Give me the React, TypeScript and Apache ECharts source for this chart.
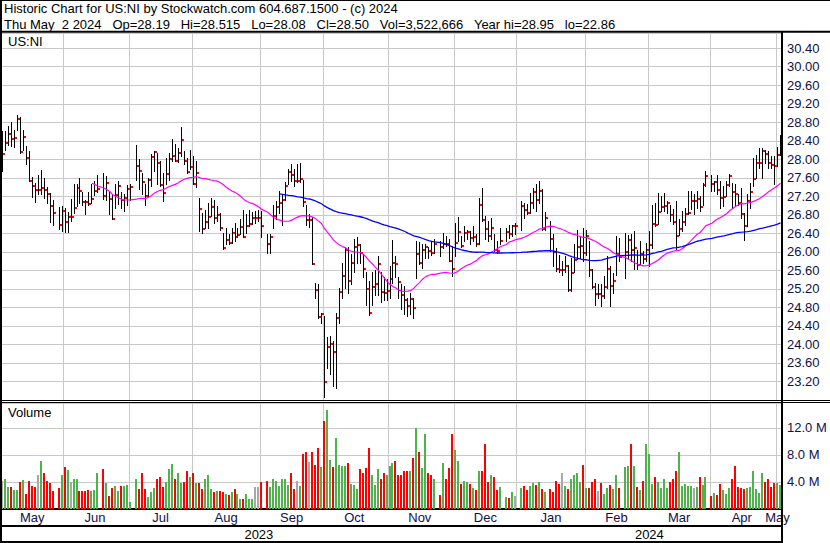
import React, { useEffect, useRef } from 'react';
import * as echarts from 'echarts';

// ---------- data ----------
const START_DATE = [2023, 4, 3]; // 2023-05-03, first weekday slot
const N_SLOTS = 262; // weekdays up to 2024-05-02
const MONTH_NAMES = ['Jan', 'Feb', 'Mar', 'Apr', 'May', 'Jun', 'Jul', 'Aug', 'Sep', 'Oct', 'Nov', 'Dec'];

// null = market holiday (empty slot)
const HIGH = [
  28.6, 28.61, 28.71, 28.79, 28.63, 28.95, 28.9, 28.63, 28.27, 28.17,
  27.6, 27.47, 27.66, 27.76, 27.59, 27.4, 27.27, 27.1, null, 26.96,
  26.98, 26.94, 26.85, 27.14, 27.45, 27.46, 27.58, 27.29, 27.12, 27.29,
  27.45, 27.53, 27.64, null, 27.7, 27.62, 27.29, 27.23, 27.45, 27.53,
  27.29, 27.24, 27.43, 27.45, null, 28.3, 28.0, 27.7, 27.46, 27.58,
  28.1, 28.17, 28.13, 27.95, 27.7, 28.02, 28.13, 28.42, 28.31, 28.24,
  28.69, 28.17, 28.02, 28.2, 28.06, 27.95, 27.16, 26.83, 26.9, 27.05,
  27.16, 27.12, 26.98, 26.83, 26.39, 26.51, 26.37, 26.51, 26.62, 26.5,
  26.69, 26.9, 26.8, 26.9, 26.85, 26.87, 26.9, 26.87, null, 26.37,
  26.37, 27.01, 27.09, 27.3, 27.23, 27.5, 27.78, 27.89, 27.77, 27.88,
  27.9, 27.55, 27.01, 26.8, 26.75, 25.32, 25.3, 24.67, 24.6, 24.15,
  24.17, 24.06, 24.67, 25.2, 25.75, 26.1, 26.1, 25.95, 26.26, 26.3,
  26.15, 25.95, 25.55, 25.35, 25.55, 25.6, 25.9, 25.55, 25.45, 25.4,
  25.68, 26.25, 25.9, 25.45, 25.3, 25.25, 24.99, 25.1, 24.99, 26.22,
  26.2, 26.15, 26.15, 26.1, 26.22, 26.26, null, 26.22, 26.4, 26.33,
  26.26, 26.12, 26.62, 26.74, 26.33, 26.55, 26.47, 26.44, 26.55, 26.37,
  27.16, 27.36, 26.76, 26.65, 26.73, 26.37, 26.22, 26.5, null, 26.51,
  26.58, 26.58, 26.62, null, 27.09, 27.05, 27.02, 27.27, 27.37, 27.45,
  27.52, 27.34, 26.85, null, 26.65, 26.37, 26.08, 25.93, 25.79, 25.9,
  25.7, 25.86, 26.15, 26.47, 26.33, 26.51, 26.47, 26.22, 25.61, 25.32,
  25.29, 25.29, 25.47, 25.9, 25.68, 25.54, 26.33, 26.29, null, 26.4,
  26.35, 26.37, 26.44, 26.04, 26.22, 26.0, 26.18, 26.44, 27.01, 27.05,
  27.27, 27.19, 27.27, 27.09, 27.01, 26.91, 27.09, 26.69, 26.87, 26.94,
  27.3, 27.3, 27.23, 27.3, 27.19, 27.48, 27.73, null, 27.66, 27.52,
  27.66, 27.52, 27.41, 27.52, 27.68, 27.48, 27.45, 27.23, 27.37, 26.83,
  27.25, 27.48, 28.02, 28.09, 28.24, 28.24, 28.2, 28.17, 28.06, 28.06,
  28.25, 28.515,
];

const LOW = [
  27.73, 28.2, 28.3, 28.27, 28.25, 28.62, 28.13, 28.2, 27.88, 27.53,
  27.18, 27.06, 27.23, 27.25, 27.15, 27.05, 26.63, 26.58, null, 26.49,
  26.44, 26.42, 26.42, 26.65, 26.83, 26.98, 27.05, 27.0, 26.8, 27.0,
  27.05, 27.22, 27.29, null, 27.14, 27.1, 26.8, 26.69, 26.94, 27.03,
  26.94, 26.87, 27.0, 27.12, null, 27.55, 27.34, 27.23, 27.0, 27.19,
  27.41, 27.73, 27.45, 27.42, 27.09, 27.45, 27.55, 27.95, 27.95, 27.93,
  28.06, 27.88, 27.7, 27.77, 27.45, 27.4, 26.43, 26.4, 26.5, 26.51,
  26.76, 26.62, 26.65, 26.47, 26.05, 26.15, 26.15, 26.19, 26.22, 26.3,
  26.37, 26.3, 26.4, 26.55, 26.6, 26.62, 26.65, 26.3, null, 25.97,
  25.97, 26.51, 26.69, 26.83, 26.58, 27.12, 27.45, 27.52, 27.41, 27.5,
  27.5, 26.99, 26.58, 26.52, 25.72, 25.0, 24.55, 24.45, 22.86, 23.47,
  23.35, 23.1, 23.05, 24.45, 25.0, 25.2, 25.1, 25.3, 25.55, 25.75,
  25.75, 25.45, 24.85, 24.62, 24.85, 25.05, 25.05, 24.9, 24.95, 24.95,
  25.0, 25.32, 25.45, 25.0, 24.75, 24.65, 24.6, 24.65, 24.57, 25.43,
  25.72, 25.65, 25.86, 25.86, 25.93, 25.97, null, 25.9, 26.08, 26.12,
  25.79, 25.47, 25.9, 26.22, 26.1, 26.22, 26.26, 26.15, 26.22, 26.12,
  26.15, 26.65, 26.26, 26.22, 26.26, 26.01, 25.97, 26.15, null, 26.22,
  26.29, 26.33, 26.37, null, 26.47, 26.73, 26.8, 26.83, 26.94, 26.87,
  27.05, 26.47, 26.47, null, 26.0, 25.68, 25.57, 25.55, 25.5, 25.55,
  25.15, 25.15, 25.55, 25.83, 25.86, 25.79, 25.93, 25.47, 25.2, 24.85,
  25.0, 24.82, 25.0, 25.2, 24.82, 25.11, 25.5, 25.79, null, 25.43,
  25.86, 25.79, 25.63, 25.61, 25.72, 25.75, 25.8, 25.68, 26.08, 26.55,
  26.6, 26.87, 26.87, 26.83, 26.65, 26.6, 26.04, 26.35, 26.44, 26.58,
  26.8, 26.91, 26.8, 26.94, 26.87, 27.0, 27.41, null, 27.3, 27.3,
  27.23, 26.94, 26.98, 27.2, 27.41, 26.94, 27.0, 27.0, 26.73, 26.24,
  26.55, 26.94, 27.41, 27.59, 27.8, 27.59, 27.9, 27.8, 27.8, 27.45,
  27.85, 28.08,
];

const CLOSE = [
  28.12, 28.36, 28.54, 28.44, 28.45, 28.88, 28.15, 28.49, 28.03, 27.54,
  27.42, 27.34, 27.34, 27.38, 27.34, 27.24, 26.99, 26.84, null, 26.58,
  26.89, 26.65, 26.76, 26.76, 26.95, 27.38, 27.32, 27.08, 27.07, 27.04,
  27.15, 27.32, 27.36, null, 27.21, 27.49, 27.15, 26.72, 27.23, 27.42,
  27.12, 27.17, 27.35, 27.4, null, 27.86, 27.74, 27.51, 27.2, 27.55,
  28.06, 28.16, 27.93, 27.45, 27.28, 27.69, 28.0, 28.07, 27.97, 28.13,
  28.42, 27.97, 27.73, 27.84, 27.47, 27.71, 26.93, 26.5, 26.65, 26.76,
  26.98, 26.73, 26.8, 26.51, 26.09, 26.25, 26.2, 26.4, 26.33, 26.36,
  26.53, 26.33, 26.57, 26.6, 26.74, 26.74, 26.74, 26.55, null, 26.18,
  26.32, 26.78, 26.96, 27.06, 27.13, 27.42, 27.73, 27.66, 27.54, 27.54,
  27.58, 27.07, 26.69, 26.69, 25.73, 25.18, 24.6, 24.66, 23.18, 23.95,
  24.0, 23.83, 24.58, 25.14, 25.47, 26.05, 25.38, 25.77, 26.11, 26.14,
  25.97, 25.62, 25.2, 24.67, 25.25, 25.3, 25.73, 25.14, 25.12, 25.16,
  25.42, 25.77, 25.74, 25.34, 25.06, 24.96, 24.84, 24.98, 24.78, 25.96,
  25.75, 26.05, 26.1, 26.02, 25.98, 26.17, null, 26.11, 26.17, 26.16,
  25.8, 25.62, 26.19, 26.44, 26.13, 26.4, 26.42, 26.3, 26.33, 26.17,
  27.01, 26.68, 26.49, 26.34, 26.52, 26.04, 26.01, 26.24, null, 26.42,
  26.38, 26.55, 26.55, null, 26.99, 26.9, 26.85, 27.05, 27.29, 27.13,
  27.32, 26.5, 26.74, null, 26.27, 26.0, 25.63, 25.6, 25.6, 25.69,
  25.18, 25.55, 25.82, 26.1, 26.12, 25.97, 26.35, 25.6, 25.25, 25.08,
  25.08, 25.05, 25.25, 25.64, 25.27, 25.38, 25.95, 25.9, null, 26.0,
  26.25, 26.05, 26.08, 25.71, 25.96, 25.85, 26.05, 26.14, 26.61, 26.59,
  26.87, 26.96, 27.0, 27.06, 26.8, 26.65, 26.35, 26.5, 26.65, 26.82,
  26.84, 27.09, 27.09, 27.14, 26.96, 27.45, 27.65, null, 27.47, 27.5,
  27.33, 27.17, 27.19, 27.45, 27.63, 27.3, 27.24, 27.06, 26.82, 26.55,
  27.1, 27.3, 27.58, 27.91, 27.93, 28.17, 28.11, 27.92, 27.88, 27.86,
  28.1, 28.5,
];

// volume in millions of shares
const VOLUME_M = [
  4.2, 4.5, 3.3, 3.3, 2.8, 2.8, 4.05, 4.36, 2.2, 4.2,
  3.44, 3.3, 5.0, 7.1, 5.4, 4.2, 3.9, 2.67, null, 3.1,
  5.0, 6.2, 5.74, 4.05, 4.5, 4.5, 2.67, 2.67, 2.67, 2.8,
  2.67, 2.8, 5.3, null, 5.9, 3.9, 1.9, 3.1, 3.4, 2.67,
  3.4, 3.4, 3.6, 1.1, null, 4.5, 3.0, 5.3, 3.0, 1.74,
  2.5, 3.1, 4.5, 4.8, 3.3, 4.05, 5.9, 6.67, 4.5, 5.3,
  3.9, 4.05, 5.6, 4.8, 5.4, 3.9, 3.9, 2.9, 4.5, 5.0,
  3.0, 2.5, 2.6, 2.7, 2.5, 2.2, 2.0, 2.5, 2.9, 2.2,
  1.5, 1.5, 2.2, 1.5, 1.5, 3.3, 3.3, 4.05, null, 4.2,
  3.3, 4.5, 4.2, 3.4, 4.5, 4.4, 3.6, 5.4, 3.0, 4.2,
  3.4, 8.2, 8.4, 7.0, 8.4, 6.5, 9.0, 6.2, 13.1, 14.7,
  7.3, 6.2, 10.5, 6.5, 6.4, 6.4, 6.8, 3.7, 3.6, 2.95,
  5.9, 5.3, 6.1, 9.0, 5.1, 3.6, 5.9, 4.5, 5.3, 5.1,
  6.4, 6.8, 7.1, 5.0, 5.0, 5.6, 5.6, 5.6, 7.6, 12.05,
  8.4, 6.05, 11.1, 5.3, 5.0, 4.4, null, 2.05, 6.8, 4.4,
  6.05, 11.1, 8.8, 7.1, 3.7, 4.2, 4.05, 3.7, 3.1, 2.8,
  5.6, 5.6, 9.7, 4.05, 5.0, 4.8, 2.8, 3.3, null, 1.74,
  1.6, 2.5, 1.9, null, 3.1, 3.4, 2.8, 3.4, 3.9, 3.6,
  4.05, 3.0, 2.5, null, 3.0, 2.5, 4.2, 3.7, 5.3, 3.4,
  3.0, 4.4, 5.0, 5.4, 4.05, 6.5, 3.1, 3.1, 4.05, 4.5,
  2.67, 3.9, 2.2, 3.1, 3.6, 3.0, 5.1, 3.1, null, 6.2,
  6.4, 9.6, 6.4, 3.3, 2.8, 4.2, 9.6, 8.2, 3.7, 4.8,
  4.05, 3.1, 4.5, 3.1, 4.05, 4.4, 5.7, 8.5, 3.4, 3.7,
  3.4, 3.4, 3.1, 3.3, 4.7, 3.6, 4.7, null, 1.9, 2.4,
  2.05, 3.7, 2.8, 2.2, 3.1, 4.5, 6.4, 3.3, 3.1, 3.0,
  3.1, 3.3, 5.6, 3.0, 2.4, 5.4, 4.05, 4.4, 3.3, 3.9,
  3.9, 3.52,
];

const MA_FAST = 30;
const MA_SLOW = 90;

const PRICE_MIN = 22.8;
const PRICE_MAX = 30.729;
const PRICE_STEP = 0.4;
const VOL_MAX = 15.7;
const VOL_STEP = 4;

// wide gaps kept visible with no-break spaces
const GAP = ' \u00a0 ';
const HEADER_1 = 'Historic Chart for US:NI by Stockwatch.com 604.687.1500 - (c) 2024';
const HEADER_2_PARTS = ['Thu May\u00a0 2 2024', 'Op=28.19', 'Hi=28.515', 'Lo=28.08', 'Cl=28.50', 'Vol=3,522,666', 'Year hi=28.95', 'lo=22.86'];
const SYMBOL = 'US:NI';
const VOLUME_TITLE = 'Volume';

// ---------- styles ----------
const FONT = '"Liberation Sans", Arial, sans-serif';
const GRID_COLOR = '#c8c8c8';
const LABEL_COLOR = '#10104a';
const UP_COLOR = '#4fb34b';
const DOWN_COLOR = '#ff0000';
const FLAT_COLOR = '#a8a8a8';

function buildDates(): string[] {
  const out: string[] = [];
  const d = new Date(Date.UTC(START_DATE[0], START_DATE[1], START_DATE[2]));
  while (out.length < N_SLOTS) {
    const wd = d.getUTCDay();
    if (wd !== 0 && wd !== 6) out.push(d.toISOString().slice(0, 10));
    d.setUTCDate(d.getUTCDate() + 1);
  }
  return out;
}

function sma(n: number): (number | null)[] {
  const vals: number[] = [];
  return CLOSE.map((c) => {
    if (c == null) return null;
    vals.push(c);
    if (vals.length < n) return null;
    let s = 0;
    for (let k = vals.length - n; k < vals.length; k++) s += vals[k];
    return +(s / n).toFixed(4);
  });
}

export default function App() {
  const ref = useRef<HTMLDivElement>(null);

  useEffect(() => {
    if (!ref.current) return;
    const chart = echarts.init(ref.current, undefined, { renderer: 'svg' });

    const dates = buildDates();
    const monthStarts = new Set<number>();
    const monthLabels = new Map<number, string>();
    const yearLabels = new Map<number, string>();
    let yearStart = -1;
    let gStart = 0;
    for (let i = 1; i <= dates.length; i++) {
      if (i === dates.length || dates[i].slice(0, 7) !== dates[i - 1].slice(0, 7)) {
        const mid = Math.floor((gStart + i - 1) / 2);
        monthLabels.set(mid, MONTH_NAMES[+dates[gStart].slice(5, 7) - 1]);
        if (i < dates.length) monthStarts.add(i);
        gStart = i;
      }
    }
    let yStart = 0;
    for (let i = 1; i <= dates.length; i++) {
      if (i === dates.length || dates[i].slice(0, 4) !== dates[i - 1].slice(0, 4)) {
        yearLabels.set(Math.floor((yStart + i - 1) / 2), dates[yStart].slice(0, 4));
        if (i < dates.length) yearStart = i;
        yStart = i;
      }
    }

    const ohlc: number[][] = [];
    const volData: any[] = [];
    let prev: number | null = null;
    for (let i = 0; i < N_SLOTS; i++) {
      const c = CLOSE[i];
      if (c == null || HIGH[i] == null || LOW[i] == null) {
        volData.push([i, null, FLAT_COLOR]);
        continue;
      }
      ohlc.push([i, HIGH[i] as number, LOW[i] as number, c]);
      let col = FLAT_COLOR;
      if (prev != null) col = c > prev ? UP_COLOR : c < prev ? DOWN_COLOR : FLAT_COLOR;
      volData.push([i, VOLUME_M[i], col]);
      prev = c;
    }

    const maFast = sma(MA_FAST);
    const maSlow = sma(MA_SLOW);

    const axisText = { color: LABEL_COLOR, fontSize: 13, fontFamily: FONT };
    const splitX = { show: true, interval: (i: number) => monthStarts.has(i), lineStyle: { color: GRID_COLOR, width: 1 } };
    const frame = (x1: number, y1: number, x2: number, y2: number, w: number) => ({
      type: 'line', z: 100, silent: true,
      shape: { x1, y1, x2, y2 },
      style: { stroke: '#000', lineWidth: w },
    });

    const option: any = {
      animation: false,
      backgroundColor: '#ffffff',
      grid: [
        { left: 1, top: 33, width: 781, height: 367 },
        { left: 1, top: 403, width: 781, height: 106 },
      ],
      xAxis: [
        {
          type: 'category', gridIndex: 0, data: dates, boundaryGap: true,
          axisLine: { show: false }, axisTick: { show: false }, axisLabel: { show: false },
          splitLine: splitX,
        },
        {
          type: 'category', gridIndex: 1, data: dates, boundaryGap: true,
          axisLine: { show: true, lineStyle: { color: '#000', width: 2 } },
          axisTick: { show: true, interval: (i: number) => i === yearStart, length: 17, lineStyle: { color: '#000', width: 2 } },
          axisLabel: {
            show: true, interval: (i: number) => monthLabels.has(i),
            formatter: (_v: string, i: number) => monthLabels.get(i) || '',
            margin: 2, ...axisText,
          },
          splitLine: splitX,
        },
        {
          type: 'category', gridIndex: 1, data: dates, boundaryGap: true, position: 'bottom', offset: 17,
          axisLine: { show: true, lineStyle: { color: '#000', width: 2 } },
          axisTick: { show: true, interval: (i: number) => i === yearStart, length: 16, lineStyle: { color: '#000', width: 2 } },
          axisLabel: {
            show: true, interval: (i: number) => yearLabels.has(i),
            formatter: (_v: string, i: number) => yearLabels.get(i) || '',
            margin: 2, color: '#000', fontSize: 13, fontFamily: FONT,
          },
          splitLine: { show: false },
        },
      ],
      yAxis: [
        {
          type: 'value', gridIndex: 0, position: 'right', min: PRICE_MIN, max: PRICE_MAX, interval: PRICE_STEP,
          axisLine: { show: false }, axisTick: { show: false },
          axisLabel: { formatter: (v: number) => v.toFixed(2), showMinLabel: false, showMaxLabel: false, margin: 5, ...axisText },
          splitLine: { show: true, lineStyle: { color: GRID_COLOR, width: 1 } },
        },
        {
          type: 'value', gridIndex: 1, position: 'right', min: 0, max: VOL_MAX, interval: VOL_STEP,
          axisLine: { show: false }, axisTick: { show: false },
          axisLabel: { formatter: (v: number) => v.toFixed(1) + ' M', showMinLabel: false, showMaxLabel: false, margin: 5, ...axisText },
          splitLine: { show: true, lineStyle: { color: GRID_COLOR, width: 1 } },
        },
      ],
      series: [
        {
          type: 'custom', name: 'OHLC', xAxisIndex: 0, yAxisIndex: 0, clip: true, z: 3,
          data: ohlc,
          encode: { x: 0, y: [1, 2, 3] },
          renderItem: (_p: any, api: any) => {
            const i = api.value(0);
            const hi = api.coord([i, api.value(1)]);
            const lo = api.coord([i, api.value(2)]);
            const cl = api.coord([i, api.value(3)]);
            const px = Math.round(hi[0] - 0.5);
            const top = Math.floor(hi[1]);
            const bot = Math.ceil(lo[1]);
            const cy = Math.round(cl[1]) - 1;
            return {
              type: 'group',
              children: [
                { type: 'rect', shape: { x: px, y: top, width: 1, height: Math.max(1, bot - top) }, style: { fill: '#000' } },
                { type: 'rect', shape: { x: px + 1, y: cy, width: 2, height: 2 }, style: { fill: '#ff0000' } },
              ],
            };
          },
        },
        {
          type: 'line', name: 'MA' + MA_FAST, xAxisIndex: 0, yAxisIndex: 0, data: maFast, showSymbol: false,
          connectNulls: true, z: 4, lineStyle: { color: '#ff00ff', width: 1.2 }, itemStyle: { color: '#ff00ff' },
        },
        {
          type: 'line', name: 'MA' + MA_SLOW, xAxisIndex: 0, yAxisIndex: 0, data: maSlow, showSymbol: false,
          connectNulls: true, z: 4, lineStyle: { color: '#0000ff', width: 1.3 }, itemStyle: { color: '#0000ff' },
        },
        {
          type: 'custom', name: 'Volume', xAxisIndex: 1, yAxisIndex: 1, clip: true,
          data: volData,
          encode: { x: 0, y: 1 },
          renderItem: (_p: any, api: any) => {
            const i = api.value(0);
            const v = api.value(1);
            if (v == null || isNaN(v)) return null;
            const topPt = api.coord([i, v]);
            const basePt = api.coord([i, 0]);
            const px = Math.round(topPt[0] - 1.5);
            const top = Math.round(topPt[1]);
            return {
              type: 'rect',
              shape: { x: px, y: top, width: 2, height: Math.max(1, basePt[1] - top) },
              style: { fill: volData[i][2] },
            };
          },
        },
      ],
      graphic: [
        { type: 'text', z: 101, left: 4, top: 2, style: { text: HEADER_1, font: '13px ' + FONT, fill: '#000' } },
        { type: 'text', z: 101, left: 4, top: 18, style: { text: HEADER_2_PARTS.join(GAP), font: '13px ' + FONT, fill: '#000' } },
        { type: 'text', z: 101, left: 8, top: 35, style: { text: SYMBOL, font: '13px ' + FONT, fill: '#000' } },
        { type: 'text', z: 101, left: 8, top: 406, style: { text: VOLUME_TITLE, font: '13px ' + FONT, fill: '#000' } },
        frame(0, 0.5, 830, 0.5, 1),
        frame(1, 0, 1, 543, 2),
        frame(0, 31.7, 830, 31.7, 2),
        frame(0, 400.5, 830, 400.5, 1),
        frame(0, 402.5, 830, 402.5, 1),
        frame(782, 31, 782, 543, 2),
        frame(0, 542, 783, 542, 2),
      ],
    };

    chart.setOption(option);
    return () => chart.dispose();
  }, []);

  return <div ref={ref} style={{ width: 830, height: 543, position: 'absolute', left: 0, top: 0, background: '#fff' }} />;
}
